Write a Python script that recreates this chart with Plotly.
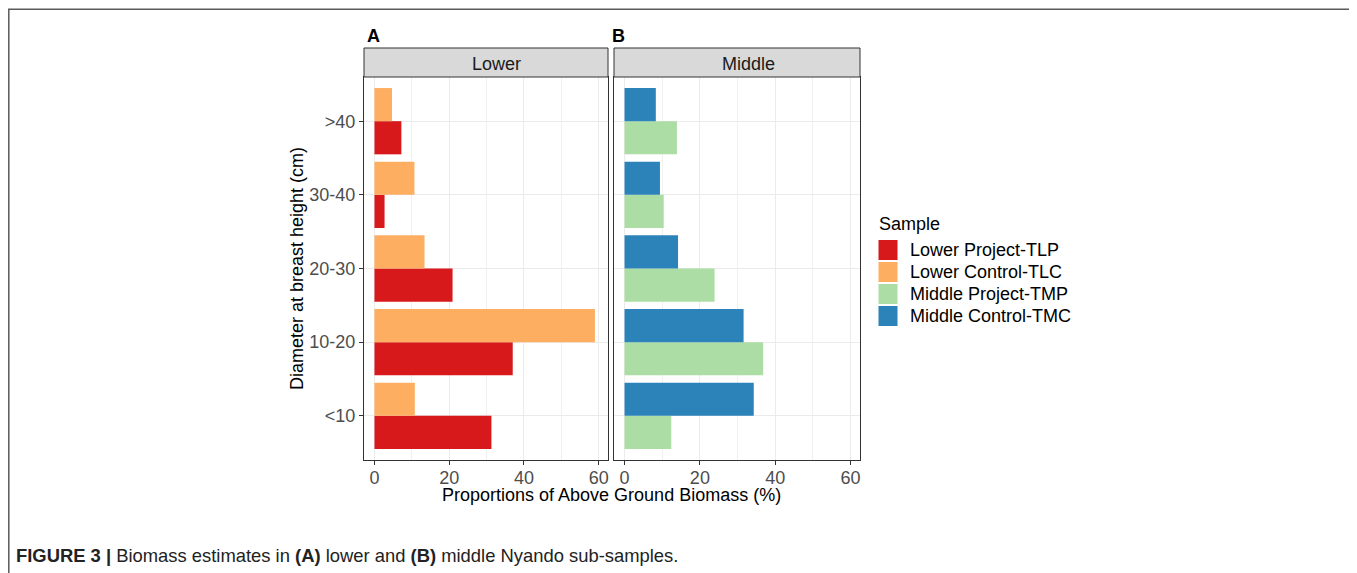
import plotly.graph_objects as go

# page has an 8px body margin: figure origin sits at page (8, 8)
OFF = 8
W, H = 1349, 565

categories = ["<10", "10-20", "20-30", "30-40", ">40"]
lower_project_tlp = [31.3, 37.0, 20.9, 2.7, 7.2]
lower_control_tlc = [10.8, 59.0, 13.4, 10.7, 4.7]
middle_project_tmp = [12.4, 36.8, 23.9, 10.4, 13.9]
middle_control_tmc = [34.3, 31.6, 14.2, 9.4, 8.3]

x_ticks = [0, 20, 40, 60]
x_range = [-2.8, 62.5]

series = [
    ("Lower Project-TLP", lower_project_tlp, "#D7191C", "x", "y"),
    ("Lower Control-TLC", lower_control_tlc, "#FDAE61", "x", "y"),
    ("Middle Project-TMP", middle_project_tmp, "#ABDDA4", "x2", "y2"),
    ("Middle Control-TMC", middle_control_tmc, "#2B83BA", "x2", "y2"),
]

FONT = "Liberation Sans, Arial, sans-serif"

def px(v):
    return (v - OFF) / W

def py(v):
    return 1 - (v - OFF) / H

fig = go.Figure()
for name, vals, color, xa, ya in series:
    fig.add_trace(go.Bar(
        x=vals, y=categories, orientation="h", name=name,
        marker=dict(color=color, line=dict(width=0)),
        xaxis=xa, yaxis=ya, showlegend=False,
    ))

dom_y = [py(460), py(77)]
dom_a = [px(364), px(608)]
dom_b = [px(614), px(860)]

xaxis_common = dict(
    range=x_range, tickvals=x_ticks, ticks="outside", ticklen=4, tickwidth=1,
    tickcolor="#333333", showline=True, linecolor="#333333", linewidth=1,
    mirror=True, showgrid=True, gridcolor="#EBEBEB", gridwidth=1,
    zeroline=False, tickfont=dict(size=18, color="#4D4D4D", family=FONT),
    ticklabelstandoff=-3,
    minor=dict(dtick=10, tick0=0, showgrid=True, gridcolor="#F0F0F0", gridwidth=1),
    fixedrange=True,
)
yaxis_common = dict(
    type="category", categoryorder="array", categoryarray=categories,
    range=[-0.6, 4.6], showline=True, linecolor="#333333", linewidth=1,
    mirror=True, showgrid=True, gridcolor="#EBEBEB", gridwidth=1,
    zeroline=False, tickfont=dict(size=18, color="#4D4D4D", family=FONT),
)

fig.update_layout(
    width=W, height=H, margin=dict(l=0, r=0, t=0, b=0),
    paper_bgcolor="white", plot_bgcolor="white",
    barmode="group", bargap=0.1, bargroupgap=0,
    font=dict(family=FONT, size=16, color="black"),
    xaxis=dict(domain=dom_a, anchor="y", **xaxis_common),
    xaxis2=dict(domain=dom_b, anchor="y2", **xaxis_common),
    yaxis=dict(domain=dom_y, anchor="x", ticks="outside", ticklen=4,
               tickcolor="#333333",
               title=dict(text="Diameter at breast height (cm)",
                          font=dict(size=18, color="black"), standoff=1),
               **yaxis_common),
    yaxis2=dict(domain=dom_y, anchor="x2", matches="y", showticklabels=False,
                ticks="", **yaxis_common),
    showlegend=False,
)

shapes = []
annotations = []
# strips
for x0, x1 in [(364, 608), (614, 860)]:
    shapes.append(dict(type="rect", xref="paper", yref="paper",
                       x0=px(x0), x1=px(x1), y0=py(77), y1=py(48),
                       fillcolor="#D9D9D9", line=dict(color="#333333", width=1),
                       layer="above"))
# figure frame (left, top, right)
shapes.append(dict(type="path", xref="paper", yref="paper",
                   path=f"M {px(8.8)},{py(580)} L {px(8.8)},{py(9.2)} L {px(1354.5)},{py(9.2)} L {px(1354.5)},{py(580)}",
                   line=dict(color="#5A5A5A", width=1.5)))

# legend: title, square keys and labels
annotations.append(dict(text="Sample", x=px(877), y=py(224), xref="paper", yref="paper",
                        xanchor="left", yanchor="middle", showarrow=False,
                        font=dict(size=18, color="black")))
for i, (name, vals, color, xa, ya) in enumerate(series):
    cy = 250 + 22 * i
    shapes.append(dict(type="rect", xref="paper", yref="paper",
                       x0=px(878), x1=px(898), y0=py(cy + 10.5), y1=py(cy - 10.5),
                       fillcolor=color, line=dict(color="white", width=1)))
    annotations.append(dict(text=name, x=px(908), y=py(cy), xref="paper", yref="paper",
                            xanchor="left", yanchor="middle", showarrow=False,
                            font=dict(size=18, color="black")))

fig.update_layout(shapes=shapes)

annotations += [
    dict(text="Lower", x=px(497), y=py(64), xref="paper", yref="paper",
         yanchor="middle", showarrow=False, font=dict(size=18, color="#1A1A1A")),
    dict(text="Middle", x=px(748), y=py(64), xref="paper", yref="paper",
         yanchor="middle", showarrow=False, font=dict(size=18, color="#1A1A1A")),
    dict(text="<b>A</b>", x=px(365), y=py(36), xref="paper", yref="paper",
         xanchor="left", yanchor="middle", showarrow=False,
         font=dict(size=18, color="black")),
    dict(text="<b>B</b>", x=px(610), y=py(36), xref="paper", yref="paper",
         xanchor="left", yanchor="middle", showarrow=False,
         font=dict(size=18, color="black")),
    dict(text="Proportions of Above Ground Biomass (%)", x=px(611), y=py(495),
         xref="paper", yref="paper", yanchor="middle", showarrow=False,
         font=dict(size=18, color="black")),
    dict(text="<b>FIGURE 3 |</b> Biomass estimates in <b>(A)</b> lower and <b>(B)</b> middle Nyando sub-samples.",
         x=px(14), y=py(555), xref="paper", yref="paper", xanchor="left",
         yanchor="middle", showarrow=False,
         font=dict(size=18.4, color="#222222", family=FONT)),
]
fig.update_layout(annotations=annotations)

fig.write_html("out.html")
